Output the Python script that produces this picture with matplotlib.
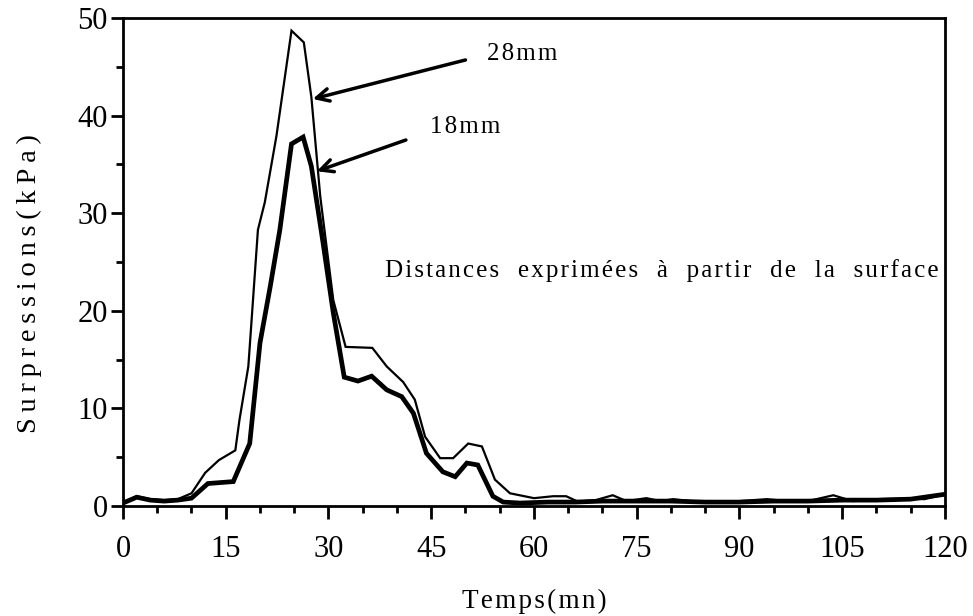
import matplotlib
matplotlib.use("Agg")
import matplotlib.pyplot as plt
from matplotlib.ticker import MultipleLocator

# 28 mm from surface (thin line)
t_28 = [0, 2, 4, 6, 8, 10, 12, 14, 16.4, 17, 18.3, 19.7, 20.7, 22.4, 24.6, 26.4, 27.5,
        28.8, 30.7, 32.5, 36.4, 38.5, 40.9, 42.6, 44.1, 46.3, 48.2, 50.4, 52.4, 54.3,
        56.5, 60, 62.8, 64.7, 66.4, 69, 71.5, 73.5, 76.4, 78.5, 80.3, 83, 86.7, 90, 94,
        97, 100, 103.7, 106.5, 110, 114.4, 117, 120]
p_28 = [0.3, 1.0, 0.7, 0.6, 0.7, 1.3, 3.4, 4.7, 5.7, 8.8, 14.3, 28.3, 31.1, 37.9, 48.7,
        47.5, 41.9, 31.7, 21.1, 16.3, 16.2, 14.3, 12.7, 10.9, 7.1, 4.9, 4.9, 6.4, 6.1,
        2.7, 1.3, 0.8, 1.0, 1.0, 0.45, 0.6, 1.1, 0.5, 0.8, 0.5, 0.7, 0.5, 0.45, 0.5,
        0.7, 0.5, 0.5, 1.1, 0.5, 0.7, 0.75, 0.7, 1.2]

# 18 mm from surface (thick line)
t_18 = [0, 2, 4, 6, 8, 10, 12.4, 16.1, 18.5, 20, 21.5, 22.9, 24.6, 26.3, 27.5, 29.2,
        30.7, 32.3, 34.3, 36.3, 38.5, 40.7, 42.4, 44.3, 46.7, 48.5, 50.2, 51.8, 54,
        55.5, 58, 62, 66, 70, 75, 80, 85, 90, 95, 100, 105, 110, 115, 120]
p_18 = [0.3, 0.9, 0.6, 0.5, 0.6, 0.8, 2.3, 2.5, 6.4, 16.7, 22.5, 28.3, 37.1, 37.8, 34.8,
        27.0, 19.8, 13.2, 12.8, 13.3, 11.9, 11.2, 9.5, 5.4, 3.5, 3.0, 4.4, 4.2, 1.0,
        0.4, 0.3, 0.4, 0.4, 0.5, 0.5, 0.5, 0.4, 0.4, 0.5, 0.5, 0.6, 0.6, 0.7, 1.2]

x_ticks = [0, 15, 30, 45, 60, 75, 90, 105, 120]
y_ticks = [0, 10, 20, 30, 40, 50]
note_words = ["Distances", "exprimées", "à", "partir", "de", "la", "surface"]

SERIF = ["Liberation Serif", "DejaVu Serif"]
plt.rcParams["font.family"] = SERIF
HS = "\u200a"  # hair space
TS = "\u2009"  # thin space


def spaced(s, sep=HS):
    return sep.join(s)


fig = plt.figure(figsize=(9.73, 6.16), dpi=100)
ax = fig.add_axes([0.1264, 0.1786, 0.8448, 0.7922])

ax.plot(t_28, p_28, color="black", lw=1.6, solid_joinstyle="miter")
ax.plot(t_18, p_18, color="black", lw=3.4, solid_joinstyle="miter")

ax.set_xlim(0, 120)
ax.set_ylim(0, 50)
ax.set_xticks(x_ticks)
ax.set_yticks(y_ticks)
ax.xaxis.set_minor_locator(MultipleLocator(5))
ax.yaxis.set_minor_locator(MultipleLocator(5))
ax.tick_params(axis="both", which="major", direction="out", length=9, width=2,
               labelsize=22)
ax.tick_params(axis="x", which="major", pad=12)
ax.tick_params(axis="y", which="major", pad=2)
ax.tick_params(axis="both", which="minor", direction="out", length=5, width=2)
for s in ax.spines.values():
    s.set_linewidth(2)

ax.set_xlabel(spaced("Temps(mn)"), fontsize=19.5, labelpad=18)
ax.set_ylabel(spaced("Surpressions(kPa)", TS), fontsize=20.5)
ax.yaxis.set_label_coords(-0.098, 0.455)

arrow = dict(arrowstyle="->, head_length=0.9, head_width=0.45", color="black", lw=2.5,
             shrinkA=0, shrinkB=0)
ax.annotate("", xy=(27.7, 41.7), xytext=(50.0, 45.7), arrowprops=arrow)
ax.text(53.1, 46.3, spaced("28mm"), fontsize=18, va="center", ha="left")
ax.annotate("", xy=(28.3, 34.3), xytext=(41.3, 37.5), arrowprops=arrow)
ax.text(44.8, 38.8, spaced("18mm"), fontsize=18, va="center", ha="left")

ax.text(38.2, 24.1, "   ".join(spaced(w) for w in note_words),
        fontsize=18, va="center", ha="left")

fig.savefig("out.png", dpi=100)
